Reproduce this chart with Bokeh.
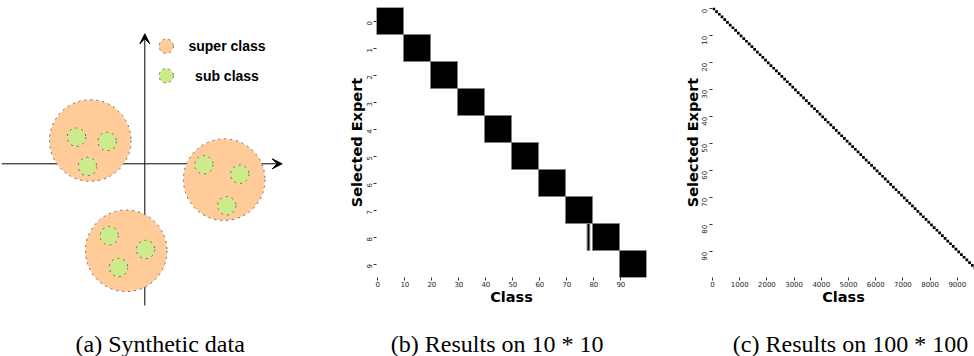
import math
from bokeh.plotting import figure
from bokeh.models import Range1d, FixedTicker, Arrow, VeeHead
from bokeh.layouts import row, column
from bokeh.embed import file_html
from bokeh.resources import INLINE
from bokeh.core.properties import value

# ---------------- Panel (a): synthetic data schematic ----------------
super_x = [-5.45, 7.94, -1.86]
super_y = [2.33, -1.59, -8.70]
sub_x = [-6.83, -3.76, -5.73, 5.90, 9.50, 8.20, -3.56, 0.07, -2.63]
sub_y = [2.66, 2.23, -0.27, -0.10, -1.04, -4.20, -7.20, -8.57, -10.37]
legend_labels = ["super class", "sub class"]
legend_y = [11.76, 8.80]
axis_h_extent = [-14.30, 13.74]
axis_v_extent = [-14.17, 13.00]

# ---------------- Panel (b): 10 experts x 100 classes ----------------
b_expert = [0, 1, 2, 3, 4, 5, 6, 7, 8, 9, 8]
b_class_start = [0, 10, 20, 30, 40, 50, 60, 70, 80, 90, 78]
b_class_end = [10, 20, 30, 40, 50, 60, 70, 80, 90, 100, 79]
b_xticks = [0, 10, 20, 30, 40, 50, 60, 70, 80, 90]
b_yticks = [0, 1, 2, 3, 4, 5, 6, 7, 8, 9]

# ---------------- Panel (c): 100 experts x 10000 classes ----------------
c_expert = [0, 1, 2, 3, 4, 5, 6, 7, 8, 9, 10, 11, 12, 13, 14, 15, 16, 17, 18, 19,
            20, 21, 22, 23, 24, 25, 26, 27, 28, 29, 30, 31, 32, 33, 34, 35, 36, 37, 38, 39,
            40, 41, 42, 43, 44, 45, 46, 47, 48, 49, 50, 51, 52, 53, 54, 55, 56, 57, 58, 59,
            60, 61, 62, 63, 64, 65, 66, 67, 68, 69, 70, 71, 72, 73, 74, 75, 76, 77, 78, 79,
            80, 81, 82, 83, 84, 85, 86, 87, 88, 89, 90, 91, 92, 93, 94, 95, 96, 97, 98, 99]
c_class_start = [0, 100, 200, 300, 400, 500, 600, 700, 800, 900,
                 1000, 1100, 1200, 1300, 1400, 1500, 1600, 1700, 1800, 1900,
                 2000, 2100, 2200, 2300, 2400, 2500, 2600, 2700, 2800, 2900,
                 3000, 3100, 3200, 3300, 3400, 3500, 3600, 3700, 3800, 3900,
                 4000, 4100, 4200, 4300, 4400, 4500, 4600, 4700, 4800, 4900,
                 5000, 5100, 5200, 5300, 5400, 5500, 5600, 5700, 5800, 5900,
                 6000, 6100, 6200, 6300, 6400, 6500, 6600, 6700, 6800, 6900,
                 7000, 7100, 7200, 7300, 7400, 7500, 7600, 7700, 7800, 7900,
                 8000, 8100, 8200, 8300, 8400, 8500, 8600, 8700, 8800, 8900,
                 9000, 9100, 9200, 9300, 9400, 9500, 9600, 9700, 9800, 9900]
c_block_width = 100
c_xticks = [0, 1000, 2000, 3000, 4000, 5000, 6000, 7000, 8000, 9000]
c_yticks = [0, 10, 20, 30, 40, 50, 60, 70, 80, 90]

captions = ["(a) Synthetic data", "(b) Results on 10 * 10", "(c) Results on 100 * 100"]
caption_x = [159.7, 496.7, 850.0]

SUPER_FILL = "#FFCC99"
SUB_FILL = "#CDEB8B"
EDGE = "#666666"
CAPTION_FONT = "Liberation Serif"
LABEL_FONT = "DejaVu Sans"

# ---------- figure (a) ----------
pa = figure(width=330, height=310, output_backend="svg", toolbar_location=None,
            x_range=Range1d(-14.43, 18.57), y_range=Range1d(-14.67, 16.33),
            x_axis_location=None, y_axis_location=None,
            min_border_left=0, min_border_right=0, min_border_top=0, min_border_bottom=0)
pa.grid.visible = False
pa.outline_line_color = None

pa.add_layout(Arrow(end=VeeHead(size=10, fill_color="black", line_color="black"),
                    x_start=axis_h_extent[0], y_start=0, x_end=axis_h_extent[1], y_end=0,
                    line_color="black", line_width=1, level="underlay"))
pa.add_layout(Arrow(end=VeeHead(size=10, fill_color="black", line_color="black"),
                    x_start=0, y_start=axis_v_extent[0], x_end=0, y_end=axis_v_extent[1],
                    line_color="black", line_width=1, level="underlay"))

pa.circle(x=super_x, y=super_y, radius=4.08, fill_color=SUPER_FILL, line_color=EDGE,
          line_dash="dotted", line_width=1)
pa.circle(x=sub_x, y=sub_y, radius=0.92, fill_color=SUB_FILL, line_color=EDGE,
          line_dash="dotted", line_width=1)
pa.circle(x=[2.14, 2.14], y=legend_y, radius=0.72, fill_color=[SUPER_FILL, SUB_FILL],
          line_color=EDGE, line_dash="dotted", line_width=1)
pa.text(x=[8.22, 8.22], y=legend_y, text=legend_labels, text_font=value("Liberation Sans"),
        text_font_style="bold", text_font_size="14px", text_align="center",
        text_baseline="middle", text_color="black")


def style_heat(p, xticks, yticks):
    p.grid.visible = False
    p.outline_line_color = None
    xa = p.xaxis[0]
    ya = p.yaxis[0]
    xa.ticker = FixedTicker(ticks=[v + 0.5 for v in xticks])
    xa.major_label_overrides = {v + 0.5: str(v) for v in xticks}
    ya.ticker = FixedTicker(ticks=[v + 0.5 for v in yticks])
    ya.major_label_overrides = {v + 0.5: str(v) for v in yticks}
    ya.major_label_orientation = math.pi / 2
    for ax in (xa, ya):
        ax.axis_line_color = None
        ax.major_tick_out = 3
        ax.major_tick_in = 0
        ax.minor_tick_line_color = None
        ax.major_tick_line_color = "#333333"
        ax.major_label_text_font = LABEL_FONT
        ax.major_label_text_font_size = "7px"
        ax.major_label_text_color = "#262626"
        ax.axis_label_text_font = LABEL_FONT
        ax.axis_label_text_font_style = "bold"
        ax.axis_label_text_font_size = "14.5px"
        ax.axis_label_text_color = "black"
    xa.major_label_standoff = 0
    xa.axis_label_standoff = -1
    ya.major_label_standoff = 5
    ya.axis_label_standoff = -5
    xa.axis_label = "Class"
    ya.axis_label = "Selected Expert"


# ---------- figure (b) ----------
pb = figure(width=342, height=310, output_backend="svg", toolbar_location=None,
            x_range=Range1d(0, 100), y_range=Range1d(10, 0),
            min_border_left=46, min_border_right=26, min_border_top=7, min_border_bottom=33)
pb.quad(left=b_class_start, right=b_class_end, top=b_expert, bottom=[e + 1 for e in b_expert],
        fill_color="black", line_color="#808080", line_width=1)
style_heat(pb, b_xticks, b_yticks)

# ---------- figure (c) ----------
pc = figure(width=302, height=310, output_backend="svg", toolbar_location=None,
            x_range=Range1d(0, 9632), y_range=Range1d(100, 0),
            min_border_left=40, min_border_right=0, min_border_top=7, min_border_bottom=33)
pc.quad(left=c_class_start, right=[s + c_block_width for s in c_class_start],
        top=c_expert, bottom=[e + 1 for e in c_expert],
        fill_color="black", line_color=None)
style_heat(pc, c_xticks, c_yticks)

# ---------- captions ----------
pcap = figure(width=974, height=46, output_backend="svg", toolbar_location=None,
              x_range=Range1d(0, 974), y_range=Range1d(0, 46),
              x_axis_location=None, y_axis_location=None,
              min_border_left=0, min_border_right=0, min_border_top=0, min_border_bottom=0)
pcap.grid.visible = False
pcap.outline_line_color = None
pcap.text(x=caption_x, y=[12.5, 12.5, 12.5], text=captions, text_font=value(CAPTION_FONT),
          text_font_size="24px", text_align="center", text_baseline="alphabetic",
          text_color="black")

layout = column(row(column(pa), column(pb), column(pc), spacing=0), pcap, spacing=0)
open("out.html", "w").write(file_html(layout, INLINE))
